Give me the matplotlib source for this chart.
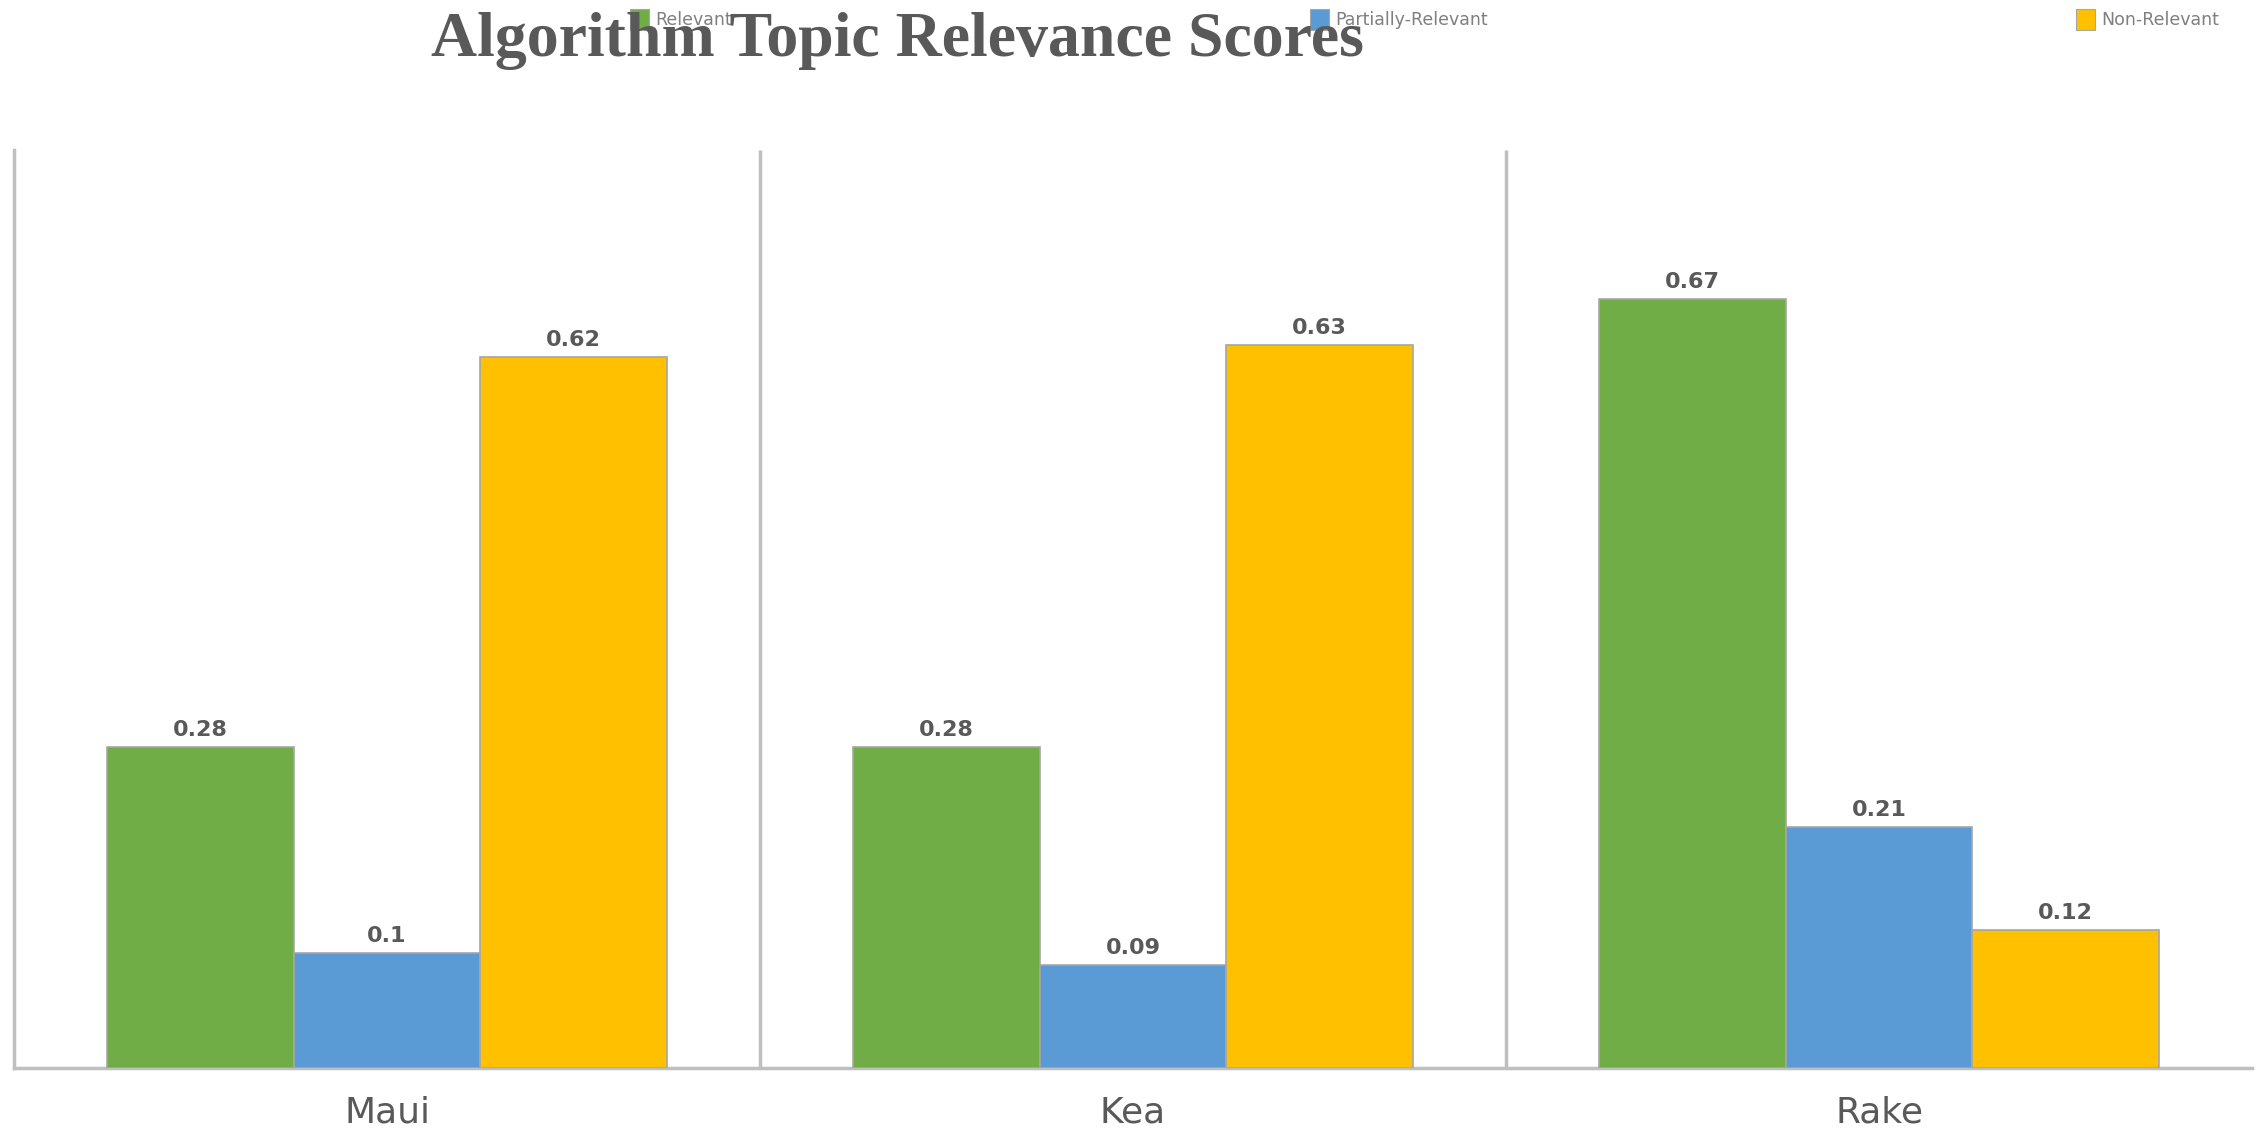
import matplotlib
matplotlib.use("Agg")
import matplotlib.pyplot as plt
from matplotlib.patches import Rectangle
import numpy as np

categories = ["Maui", "Kea", "Rake"]
series_names = ["Relevant", "Partially-Relevant", "Non-Relevant"]
relevant = [0.28, 0.28, 0.67]
partially_relevant = [0.10, 0.09, 0.21]
non_relevant = [0.62, 0.63, 0.12]
value_labels = [
    ["0.28", "0.28", "0.67"],
    ["0.1", "0.09", "0.21"],
    ["0.62", "0.63", "0.12"],
]
colors = ["#70AD47", "#5B9BD5", "#FFC000"]
title = "Algorithm Topic Relevance Scores"

series = [relevant, partially_relevant, non_relevant]

fig = plt.figure(figsize=(22.6, 11.31), dpi=100)
ax = fig.add_axes([0.0062, 0.0557, 0.9903, 0.8117])

x = np.arange(len(categories))
width = 0.25
grey_text = "#595959"
for i, (vals, col, labs) in enumerate(zip(series, colors, value_labels)):
    bars = ax.bar(x + (i - 1) * width, vals, width, color=col,
                  edgecolor="#a6a6a6", linewidth=1.2, zorder=3)
    for b, lab in zip(bars, labs):
        ax.annotate(lab, (b.get_x() + b.get_width() / 2, b.get_height()),
                    xytext=(0, 5), textcoords="offset points",
                    ha="center", va="bottom", fontsize=16,
                    color=grey_text, fontweight="bold")

ax.set_xlim(-0.5, len(categories) - 0.5)
ax.set_ylim(0, 0.8)
ax.vlines(np.arange(1, len(categories)) - 0.5, 0, 0.8, color="#bfbfbf",
          linewidth=2.5, zorder=1)
for s in ["top", "right"]:
    ax.spines[s].set_visible(False)
for s in ["left", "bottom"]:
    ax.spines[s].set_color("#bfbfbf")
    ax.spines[s].set_linewidth(2.5)
ax.set_yticks([])
ax.set_xticks(x)
ax.set_xticklabels(categories, fontsize=26, color=grey_text)
ax.tick_params(axis="x", length=0, pad=20)

# legend entries (drawn first, title overlaps them as in the reference)
leg_x = [630 / 2260, 1310 / 2260, 2076 / 2260]
for lx, name, col in zip(leg_x, series_names, colors):
    fig.add_artist(Rectangle((lx, 1 - 30 / 1131), 19 / 2260, 21 / 1131,
                             transform=fig.transFigure, facecolor=col,
                             edgecolor="#a6a6a6", linewidth=0.8, zorder=1))
    fig.text(lx + 25 / 2260, 1 - 20 / 1131, name, ha="left", va="center",
             fontsize=12.5, color="#7f7f7f", zorder=1)

fig.text(0.397, 0.989, title, ha="center", va="top", fontsize=46,
         fontweight="bold", family="Liberation Serif", color=grey_text,
         zorder=2)

fig.savefig("out.png", dpi=100, facecolor="white")
